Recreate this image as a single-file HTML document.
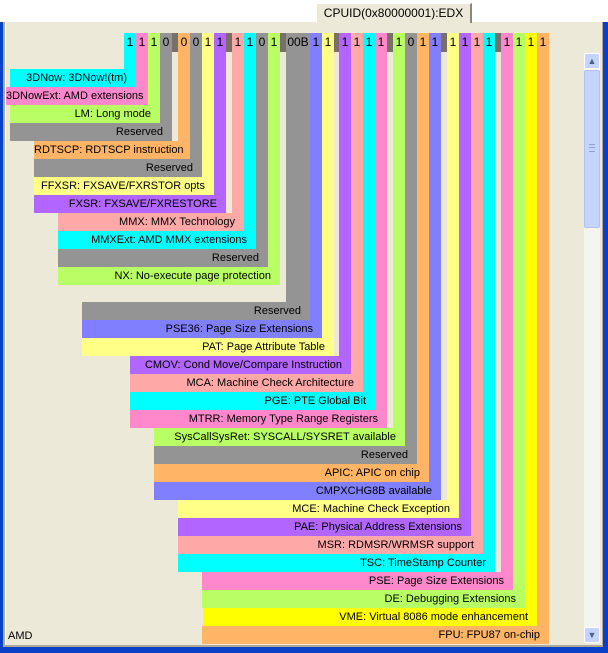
<!DOCTYPE html>
<html><head><meta charset="utf-8"><style>
*{margin:0;padding:0;box-sizing:border-box}
body{width:608px;height:653px;position:relative;overflow:hidden;background:#fff;font-family:"Liberation Sans",sans-serif;font-size:11px;color:#000}
.a{position:absolute}
#clip{position:absolute;left:0;top:0;width:608px;height:653px;clip-path:inset(22px 24px 8px 6px)}
.c{position:absolute;top:33px;text-align:center;line-height:19px;font-size:12px}
.r{position:absolute;height:18px;line-height:18px;text-align:right;padding-right:9px;white-space:nowrap;overflow:visible}
.g{position:absolute;top:33px;height:19px;background:#776f68}
</style></head><body>
<!-- frame -->
<div class="a" style="left:0;top:22px;width:608px;height:631px;background:#0a3fc8"></div>
<div class="a" style="left:3px;top:22px;width:600px;height:625px;background:#aca899"></div>
<div class="a" style="left:5px;top:22px;width:597px;height:623px;background:#fff"></div>
<div class="a" style="left:6px;top:22px;width:596px;height:623px;background:#ecE9d8"></div>
<!-- tab -->
<div class="a" style="left:316px;top:3px;width:156px;height:20px;background:#ece9d8;border-top:1px solid #fff;border-left:1px solid #fff;border-right:2px solid #8a877a;text-align:center;line-height:18px;font-size:12px">CPUID(0x80000001):EDX</div>

<div id="clip">
<div class="g" style="left:172px;width:6px"></div>
<div class="g" style="left:226px;width:6px"></div>
<div class="g" style="left:280px;width:6px"></div>
<div class="g" style="left:334px;width:5px"></div>
<div class="g" style="left:387px;width:6px"></div>
<div class="g" style="left:441px;width:6px"></div>
<div class="g" style="left:495px;width:6px"></div>

<div class="c" style="left:124px;width:12px;height:54px;background:#00ffff">1</div>
<div class="r" style="left:10px;top:69px;width:126px;background:#00ffff">3DNow: 3DNow!(tm)</div>
<div class="c" style="left:136px;width:12px;height:72px;background:#ff88cc">1</div>
<div class="r" style="left:6px;top:87px;width:142px;background:#ff88cc">3DNowExt: AMD extensions</div>
<div class="c" style="left:148px;width:12px;height:90px;background:#b8ff66">1</div>
<div class="r" style="left:10px;top:105px;width:150px;background:#b8ff66">LM: Long mode</div>
<div class="c" style="left:160px;width:12px;height:108px;background:#949494">0</div>
<div class="r" style="left:10px;top:123px;width:162px;background:#949494">Reserved</div>
<div class="c" style="left:178px;width:12px;height:126px;background:#ffb466">0</div>
<div class="r" style="left:34px;top:141px;width:156px;background:#ffb466">RDTSCP: RDTSCP instruction</div>
<div class="c" style="left:190px;width:12px;height:144px;background:#949494">0</div>
<div class="r" style="left:34px;top:159px;width:168px;background:#949494">Reserved</div>
<div class="c" style="left:202px;width:12px;height:162px;background:#ffff88">1</div>
<div class="r" style="left:34px;top:177px;width:180px;background:#ffff88">FFXSR: FXSAVE/FXRSTOR opts</div>
<div class="c" style="left:214px;width:12px;height:180px;background:#b266ff">1</div>
<div class="r" style="left:34px;top:195px;width:192px;background:#b266ff">FXSR: FXSAVE/FXRESTORE</div>
<div class="c" style="left:232px;width:12px;height:198px;background:#ffa8a8">1</div>
<div class="r" style="left:58px;top:213px;width:186px;background:#ffa8a8">MMX: MMX Technology</div>
<div class="c" style="left:244px;width:12px;height:216px;background:#00ffff">1</div>
<div class="r" style="left:58px;top:231px;width:198px;background:#00ffff">MMXExt: AMD MMX extensions</div>
<div class="c" style="left:256px;width:12px;height:234px;background:#949494">0</div>
<div class="r" style="left:58px;top:249px;width:210px;background:#949494">Reserved</div>
<div class="c" style="left:268px;width:12px;height:252px;background:#b8ff66">1</div>
<div class="r" style="left:58px;top:267px;width:222px;background:#b8ff66">NX: No-execute page protection</div>
<div class="c" style="left:286px;width:24px;height:287px;background:#949494">00B</div>
<div class="r" style="left:82px;top:302px;width:228px;background:#949494">Reserved</div>
<div class="c" style="left:310px;width:12px;height:305px;background:#8080ff">1</div>
<div class="r" style="left:82px;top:320px;width:240px;background:#8080ff">PSE36: Page Size Extensions</div>
<div class="c" style="left:322px;width:12px;height:323px;background:#ffff88">1</div>
<div class="r" style="left:82px;top:338px;width:252px;background:#ffff88">PAT: Page Attribute Table</div>
<div class="c" style="left:339px;width:12px;height:341px;background:#b266ff">1</div>
<div class="r" style="left:130px;top:356px;width:221px;background:#b266ff">CMOV: Cond Move/Compare Instruction</div>
<div class="c" style="left:351px;width:12px;height:359px;background:#ffa8a8">1</div>
<div class="r" style="left:130px;top:374px;width:233px;background:#ffa8a8">MCA: Machine Check Architecture</div>
<div class="c" style="left:363px;width:12px;height:377px;background:#00ffff">1</div>
<div class="r" style="left:130px;top:392px;width:245px;background:#00ffff">PGE: PTE Global Bit</div>
<div class="c" style="left:375px;width:12px;height:395px;background:#ff88cc">1</div>
<div class="r" style="left:130px;top:410px;width:257px;background:#ff88cc">MTRR: Memory Type Range Registers</div>
<div class="c" style="left:393px;width:12px;height:413px;background:#b8ff66">1</div>
<div class="r" style="left:154px;top:428px;width:251px;background:#b8ff66">SysCallSysRet: SYSCALL/SYSRET available</div>
<div class="c" style="left:405px;width:12px;height:431px;background:#949494">0</div>
<div class="r" style="left:154px;top:446px;width:263px;background:#949494">Reserved</div>
<div class="c" style="left:417px;width:12px;height:449px;background:#ffb466">1</div>
<div class="r" style="left:154px;top:464px;width:275px;background:#ffb466">APIC: APIC on chip</div>
<div class="c" style="left:429px;width:12px;height:467px;background:#8080ff">1</div>
<div class="r" style="left:154px;top:482px;width:287px;background:#8080ff">CMPXCHG8B available</div>
<div class="c" style="left:447px;width:12px;height:485px;background:#ffff88">1</div>
<div class="r" style="left:178px;top:500px;width:281px;background:#ffff88">MCE: Machine Check Exception</div>
<div class="c" style="left:459px;width:12px;height:503px;background:#b266ff">1</div>
<div class="r" style="left:178px;top:518px;width:293px;background:#b266ff">PAE: Physical Address Extensions</div>
<div class="c" style="left:471px;width:12px;height:521px;background:#ffa8a8">1</div>
<div class="r" style="left:178px;top:536px;width:305px;background:#ffa8a8">MSR: RDMSR/WRMSR support</div>
<div class="c" style="left:483px;width:12px;height:539px;background:#00ffff">1</div>
<div class="r" style="left:178px;top:554px;width:317px;background:#00ffff">TSC: TimeStamp Counter</div>
<div class="c" style="left:501px;width:12px;height:557px;background:#ff88cc">1</div>
<div class="r" style="left:202px;top:572px;width:311px;background:#ff88cc">PSE: Page Size Extensions</div>
<div class="c" style="left:513px;width:12px;height:575px;background:#b8ff66">1</div>
<div class="r" style="left:202px;top:590px;width:323px;background:#b8ff66">DE: Debugging Extensions</div>
<div class="c" style="left:525px;width:12px;height:593px;background:#ffff00">1</div>
<div class="r" style="left:203px;top:608px;width:334px;background:#ffff00">VME: Virtual 8086 mode enhancement</div>
<div class="c" style="left:537px;width:12px;height:611px;background:#ffb466">1</div>
<div class="r" style="left:202px;top:626px;width:347px;background:#ffb466">FPU: FPU87 on-chip</div>
</div>

<div class="a" style="left:8px;top:630px;font-size:11px">AMD</div>

<!-- scrollbar -->
<div class="a" style="left:584px;top:53px;width:16px;height:590px;background:#f4f4f0"></div>
<div class="a" style="left:584px;top:53px;width:16px;height:16px;background:#c4d4fc;border:1px solid #fff;border-radius:2px;text-align:center;font-size:9px;line-height:14px;color:#4d6185">&#9650;</div>
<div class="a" style="left:584px;top:70px;width:16px;height:158px;background:#c4d4fc;border:1px solid #b0c4f0;border-radius:2px"></div>
<div class="a" style="left:589px;top:144px;width:6px;height:8px;border-top:1px solid #8ea4d8;border-bottom:1px solid #8ea4d8"><div style="margin-top:2px;border-top:1px solid #8ea4d8"></div></div>
<div class="a" style="left:584px;top:627px;width:16px;height:16px;background:#c4d4fc;border:1px solid #fff;border-radius:2px;text-align:center;font-size:9px;line-height:14px;color:#4d6185">&#9660;</div>
</body></html>
